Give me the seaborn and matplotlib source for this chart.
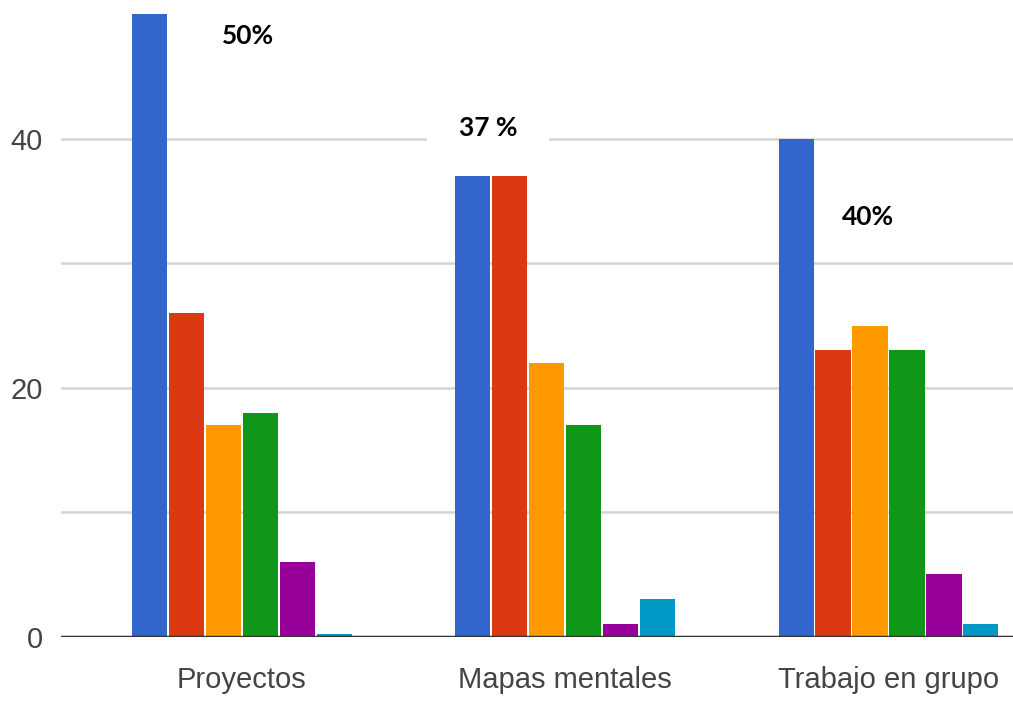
import matplotlib
matplotlib.use("Agg")
import matplotlib.pyplot as plt
import seaborn as sns
import pandas as pd

# ---- data ----
categories = ["Proyectos", "Mapas mentales", "Trabajo en grupo"]
series = ["Serie 1", "Serie 2", "Serie 3", "Serie 4", "Serie 5", "Serie 6"]
serie1 = [50, 37, 40]
serie2 = [26, 37, 23]
serie3 = [17, 22, 25]
serie4 = [18, 17, 23]
serie5 = [6, 1, 5]
serie6 = [0.2, 3, 1]
annotations = ["50%", "37 %", "40%"]
y_ticks = [0, 20, 40]
grid_values = [10, 20, 30, 40]

colors = ["#3366cc", "#dc3912", "#ff9900", "#109618", "#990099", "#0099c6"]

rows = []
for s, vals in zip(series, [serie1, serie2, serie3, serie4, serie5, serie6]):
    for c, v in zip(categories, vals):
        rows.append({"categoria": c, "serie": s, "valor": v})
df = pd.DataFrame(rows)

sns.set_theme(style="white")
plt.rcParams["font.family"] = ["Liberation Sans", "DejaVu Sans"]

fig = plt.figure(figsize=(10.13, 7.08), dpi=100)
ax = fig.add_axes([0.0602, 0.1007, 0.9398, 0.899])

sns.barplot(data=df, x="categoria", y="valor", hue="serie", order=categories,
            hue_order=series, palette=colors, saturation=1, width=0.686, gap=0.05,
            linewidth=0, legend=False, ax=ax, zorder=3)

ax.set_ylim(0, 51.14)
ax.set_xlim(-0.559, 2.385)
ax.set_yticks(y_ticks)
ax.grid(False)
for yv in grid_values:
    ax.axhline(yv, color="#d4d4d4", lw=1.8, zorder=1)
ax.axhline(0, color="#333333", lw=2.5, zorder=4)

for sp in ax.spines.values():
    sp.set_visible(False)

ax.set_xlabel("")
ax.set_ylabel("")
ax.tick_params(axis="both", which="both", length=0, colors="#444444", labelsize=21)
ax.tick_params(axis="y", pad=13)
ax.tick_params(axis="x", pad=21)

# annotations
ann_pos = [(0.02, 48.3), (0.762, 40.9), (1.937, 33.7)]
for (x, y), t in zip(ann_pos, annotations):
    kw = {}
    if t.startswith("37"):
        kw["bbox"] = dict(boxstyle="square,pad=1.2", fc="white", ec="none")
    ax.text(x, y, t, ha="center", va="center", fontsize=19, fontweight="bold",
            family=["Lato", "DejaVu Sans"], color="black", zorder=5, **kw)

fig.savefig("out.png", dpi=100)
